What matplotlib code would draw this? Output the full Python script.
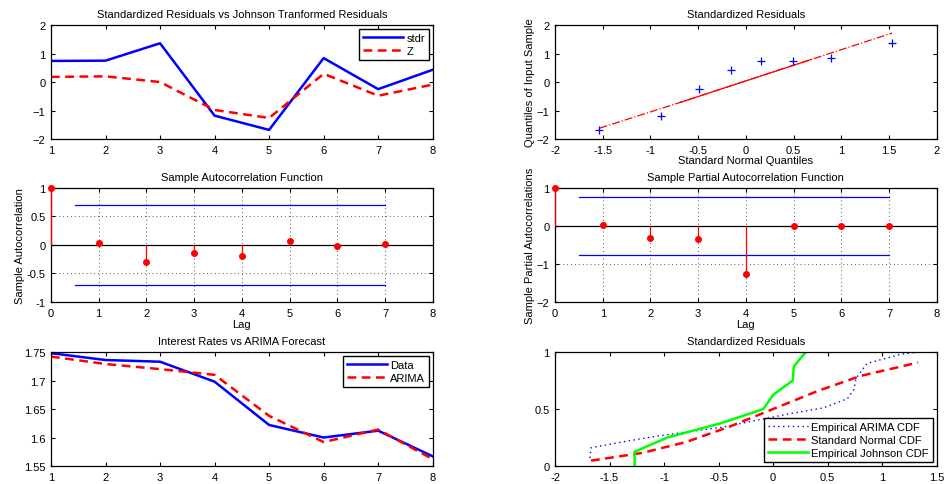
import matplotlib.pyplot as plt
from matplotlib.ticker import FormatStrFormatter

plt.rcParams["font.family"] = ["Liberation Sans", "DejaVu Sans"]
plt.rcParams["font.size"] = 8
plt.rcParams["axes.titlesize"] = 8

# Residuals (top left)
t = [1, 2, 3, 4, 5, 6, 7, 8]
stdr = [0.74, 0.75, 1.36, -1.18, -1.68, 0.84, -0.25, 0.43]
z_res = [0.18, 0.20, 0.0, -0.98, -1.26, 0.29, -0.48, -0.09]

# QQ plot (top right)
qq_x = [-1.534, -0.887, -0.489, -0.157, 0.157, 0.489, 0.887, 1.534]
qq_y = [-1.68, -1.18, -0.25, 0.43, 0.74, 0.75, 0.84, 1.36]
qline_x = [-1.534, -0.688, 0.688, 1.534]
qline_y = [-1.62, -0.715, 0.795, 1.72]

# ACF / PACF
lags = [0, 1, 2, 3, 4, 5, 6, 7]
acf = [1.0, 0.03, -0.29, -0.14, -0.19, 0.07, -0.01, 0.02]
acf_bound = 0.70
pacf = [1.0, 0.03, -0.31, -0.34, -1.27, 0.0, 0.0, 0.0]
pacf_bound = 0.757

# Interest rates vs forecast
rates = [1.748, 1.736, 1.733, 1.698, 1.622, 1.600, 1.612, 1.567]
arima = [1.742, 1.729, 1.720, 1.710, 1.638, 1.592, 1.614, 1.562]

# CDFs
arima_cdf_x = [-1.68, -1.67, -1.39, -1.08, -0.78, -0.47, -0.16, 0.16, 0.46,
               0.68, 0.74, 0.76, 0.86, 1.17, 1.33]
arima_cdf_y = [0.07, 0.16, 0.21, 0.26, 0.30, 0.34, 0.40, 0.46, 0.51,
               0.59, 0.67, 0.77, 0.90, 0.98, 1.0]
norm_cdf_x = [-1.67, -1.2, -0.8, -0.4, 0.0, 0.4, 0.8, 1.33]
norm_cdf_y = [0.047, 0.115, 0.21, 0.345, 0.5, 0.655, 0.79, 0.908]
john_cdf_x = [-1.27, -1.27, -0.97, -0.48, -0.09, 0.0, 0.18, 0.19, 0.30]
john_cdf_y = [0.0, 0.125, 0.25, 0.375, 0.5, 0.625, 0.75, 0.875, 1.0]

DASH = (0, (3.5, 2.2))


def style(ax):
    ax.tick_params(direction="in", top=True, right=True, length=3, width=0.8)
    ax.tick_params(axis="x", pad=4)
    ax.tick_params(axis="y", pad=4)
    for s in ax.spines.values():
        s.set_linewidth(0.9)


def grid(ax, xs, ys):
    for x in xs:
        ax.axvline(x, color="0.35", ls=(0, (1, 3)), lw=0.7, zorder=0)
    for y in ys:
        ax.axhline(y, color="0.35", ls=(0, (1, 3)), lw=0.7, zorder=0)


def stems(ax, x, y):
    ax.axhline(0, color="black", lw=0.9, zorder=1)
    ax.vlines(x, 0, y, color="red", lw=0.9, zorder=3, clip_on=False)
    ax.plot(x, y, "o", color="red", ms=4, zorder=4, clip_on=False)


def legend(ax, loc):
    ax.legend(loc=loc, fancybox=False, edgecolor="black", framealpha=1,
              borderaxespad=0.35, handlelength=3.6, labelspacing=0.3,
              borderpad=0.35, handletextpad=0.3)


def main():
    fig = plt.figure(figsize=(9.46, 4.85), dpi=100)
    lx, rx, w = 0.0539, 0.5867, 0.4035
    rows = [0.7113, 0.3753, 0.0371]
    h = 0.235

    # Standardized vs Johnson residuals
    ax = fig.add_axes([lx, rows[0], w, h])
    ax.plot(t, stdr, color="blue", lw=1.8, label="stdr")
    ax.plot(t, z_res, color="red", lw=1.8, ls=DASH, label="Z")
    ax.set_xlim(1, 8)
    ax.set_ylim(-2, 2)
    ax.set_yticks([-2, -1, 0, 1, 2])
    ax.set_title("Standardized Residuals vs Johnson Tranformed Residuals", pad=6)
    legend(ax, "upper right")
    style(ax)

    # QQ plot
    ax = fig.add_axes([rx, rows[0], w, h])
    ax.plot(qline_x, qline_y, color="red", lw=0.9, ls="-.")
    ax.plot(qline_x[1:3], qline_y[1:3], color="red", lw=0.9)
    ax.plot(qq_x, qq_y, "+", color="blue", ms=6, mew=0.9)
    ax.set_xlim(-2, 2)
    ax.set_ylim(-2, 2)
    ax.set_xticks([-2, -1.5, -1, -0.5, 0, 0.5, 1, 1.5, 2])
    ax.set_yticks([-2, -1, 0, 1, 2])
    ax.xaxis.set_major_formatter(FormatStrFormatter("%g"))
    ax.set_title("Standardized Residuals", pad=6)
    ax.set_xlabel("Standard Normal Quantiles", labelpad=0)
    ax.set_ylabel("Quantiles of Input Sample", labelpad=1)
    style(ax)

    # ACF
    ax = fig.add_axes([lx, rows[1], w, h])
    grid(ax, [1, 2, 3, 4, 5, 6, 7], [-0.5, 0.5])
    stems(ax, lags, acf)
    ax.plot([0.5, 7], [acf_bound, acf_bound], color="blue", lw=0.9)
    ax.plot([0.5, 7], [-acf_bound, -acf_bound], color="blue", lw=0.9)
    ax.set_xlim(0, 8)
    ax.set_ylim(-1, 1)
    ax.set_yticks([-1, -0.5, 0, 0.5, 1])
    ax.yaxis.set_major_formatter(FormatStrFormatter("%g"))
    ax.set_title("Sample Autocorrelation Function", pad=6)
    ax.set_xlabel("Lag", labelpad=1)
    ax.set_ylabel("Sample Autocorrelation", labelpad=1)
    style(ax)

    # PACF
    ax = fig.add_axes([rx, rows[1], w, h])
    grid(ax, [1, 2, 3, 4, 5, 6, 7], [-1])
    stems(ax, lags, pacf)
    ax.plot([0.5, 7], [pacf_bound, pacf_bound], color="blue", lw=0.9)
    ax.plot([0.5, 7], [-pacf_bound, -pacf_bound], color="blue", lw=0.9)
    ax.set_xlim(0, 8)
    ax.set_ylim(-2, 1)
    ax.set_yticks([-2, -1, 0, 1])
    ax.set_title("Sample Partial Autocorrelation Function", pad=6)
    ax.set_xlabel("Lag", labelpad=1)
    ax.set_ylabel("Sample Partial Autocorrelations", labelpad=1)
    style(ax)

    # Interest rates
    ax = fig.add_axes([lx, rows[2], w, h])
    ax.plot(t, rates, color="blue", lw=1.8, label="Data")
    ax.plot(t, arima, color="red", lw=1.8, ls=DASH, label="ARIMA")
    ax.set_xlim(1, 8)
    ax.set_ylim(1.55, 1.75)
    ax.set_yticks([1.55, 1.6, 1.65, 1.7, 1.75])
    ax.yaxis.set_major_formatter(FormatStrFormatter("%g"))
    ax.set_title("Interest Rates vs ARIMA Forecast", pad=6)
    legend(ax, "upper right")
    style(ax)

    # CDFs
    ax = fig.add_axes([rx, rows[2], w, h])
    ax.plot(arima_cdf_x, arima_cdf_y, color="blue", lw=1.0, ls=(0, (1, 2.5)),
            label="Empirical ARIMA CDF")
    ax.plot(norm_cdf_x, norm_cdf_y, color="red", lw=1.8, ls=DASH,
            label="Standard Normal CDF")
    ax.plot(john_cdf_x, john_cdf_y, color="#00ff00", lw=1.8,
            label="Empirical Johnson CDF")
    ax.set_xlim(-2, 1.5)
    ax.set_ylim(0, 1)
    ax.set_xticks([-2, -1.5, -1, -0.5, 0, 0.5, 1, 1.5])
    ax.set_yticks([0, 0.5, 1])
    ax.xaxis.set_major_formatter(FormatStrFormatter("%g"))
    ax.yaxis.set_major_formatter(FormatStrFormatter("%g"))
    ax.set_title("Standardized Residuals", pad=6)
    legend(ax, "lower right")
    style(ax)

    fig.savefig("out.png", dpi=100)
    plt.close(fig)


if __name__ == "__main__":
    main()
